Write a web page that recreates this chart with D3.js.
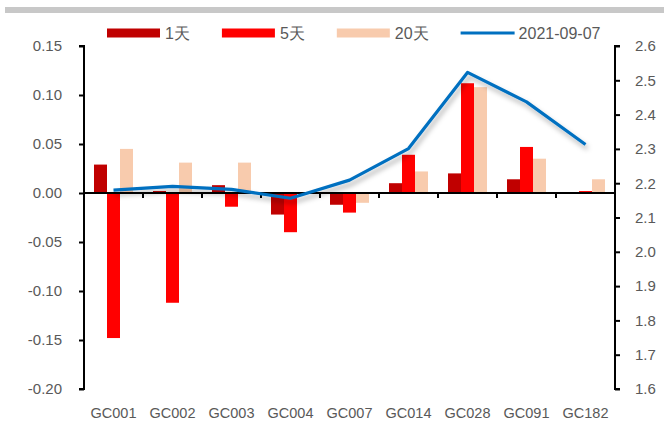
<!DOCTYPE html>
<html>
<head>
<meta charset="utf-8">
<script src="https://cdn.jsdelivr.net/npm/d3@7"></script>
<style>
  body { margin: 0; background: #fff; }
  svg text { font-family: 'Liberation Sans', Arial, sans-serif; fill: #595959; }
</style>
</head>
<body>
<div id="chart"></div>
<script>
// data
var categories = ['GC001', 'GC002', 'GC003', 'GC004', 'GC007', 'GC014', 'GC028', 'GC091', 'GC182'];
var seriesNames = ['1天', '5天', '20天'];
var chg1d = [0.029, 0.002, 0.008, -0.022, -0.012, 0.010, 0.020, 0.014, 0.000];
var chg5d = [-0.148, -0.112, -0.014, -0.040, -0.020, 0.039, 0.112, 0.047, 0.002];
var chg20d = [0.045, 0.031, 0.031, 0.000, -0.010, 0.022, 0.108, 0.035, 0.014];
var lineName = '2021-09-07';
var rates = [2.180, 2.191, 2.182, 2.156, 2.209, 2.301, 2.523, 2.437, 2.313];
var leftTicks = [-0.20, -0.15, -0.10, -0.05, 0.00, 0.05, 0.10, 0.15];
var rightTicks = [1.6, 1.7, 1.8, 1.9, 2.0, 2.1, 2.2, 2.3, 2.4, 2.5, 2.6];

var W = 664, H = 423;
var margin = {top: 46, right: 49, bottom: 34, left: 84},
  width = W - margin.left - margin.right,
  height = H - margin.top - margin.bottom;

var svg = d3.select('#chart').append('svg')
  .attr('width', W).attr('height', H);

// shadow for the line
var defs = svg.append('defs');
var f = defs.append('filter').attr('id', 'shadow')
  .attr('x', '-10%').attr('y', '-20%').attr('width', '130%').attr('height', '160%');
f.append('feDropShadow').attr('dx', 2).attr('dy', 4).attr('stdDeviation', 2.5)
  .attr('flood-color', '#000').attr('flood-opacity', 0.3);

// thin grey band at the top
svg.append('rect').attr('x', 5).attr('y', 7).attr('width', W - 5).attr('height', 6)
  .attr('fill', '#c8c8c8');

var g = svg.append('g').attr('transform', 'translate(' + margin.left + ',' + margin.top + ')');

var x = d3.scaleBand().domain(categories).range([0, width]).paddingInner(0).paddingOuter(0);
var x1 = d3.scaleBand().domain(seriesNames).range([10, x.bandwidth() - 10]).padding(0);
var y = d3.scaleLinear().domain([-0.20, 0.15]).range([height, 0]);
var y2 = d3.scaleLinear().domain([1.6, 2.6]).range([height, 0]);
var color = d3.scaleOrdinal().domain(seriesNames).range(['#c00000', '#ff0000', '#f8cbad']);

var values = [chg1d, chg5d, chg20d];
var rows = [];
seriesNames.forEach(function (s, i) {
  categories.forEach(function (c, j) {
    rows.push({cat: c, key: s, v: values[i][j]});
  });
});

// bars
g.append('g').selectAll('rect').data(rows).enter().append('rect')
  .attr('x', function (d) { return x(d.cat) + x1(d.key); })
  .attr('width', x1.bandwidth())
  .attr('y', function (d) { return Math.min(y(d.v), y(0)); })
  .attr('height', function (d) { return Math.abs(y(d.v) - y(0)); })
  .attr('fill', function (d) { return color(d.key); });

// category axis on zero line
var xAxis = g.append('g').attr('transform', 'translate(0,' + y(0) + ')');
xAxis.append('line').attr('x1', 0).attr('x2', width).attr('stroke', '#000').attr('stroke-width', 2);
xAxis.selectAll('.tk').data(categories.slice(1)).enter().append('line')
  .attr('x1', function (d) { return x(d); }).attr('x2', function (d) { return x(d); })
  .attr('y1', 0).attr('y2', 5).attr('stroke', '#000').attr('stroke-width', 2);

// category labels at the bottom
g.append('g').selectAll('text').data(categories).enter().append('text')
  .attr('x', function (d) { return x(d) + x.bandwidth() / 2; })
  .attr('y', height + 29)
  .attr('text-anchor', 'middle')
  .style('font-size', '14.5px')
  .text(function (d) { return d; });

// left axis
var left = g.append('g').call(d3.axisLeft(y).tickValues(leftTicks).tickFormat(d3.format('.2f')).tickSize(5).tickPadding(17));
left.select('.domain').attr('stroke-width', 2).attr('d', 'M-5,0H0V' + height + 'H-5');
left.selectAll('line').attr('stroke-width', 2);
left.selectAll('text').style('font-size', '15px').attr('fill', '#595959')
  .text(function (d) { return d3.format('.2f')(d).replace('−', '-'); });

// right axis
var right = g.append('g').attr('transform', 'translate(' + width + ',0)')
  .call(d3.axisRight(y2).tickValues(rightTicks).tickFormat(d3.format('.1f')).tickSize(5).tickPadding(15));
right.select('.domain').attr('stroke-width', 2).attr('d', 'M5,0H0V' + height + 'H5');
right.selectAll('line').attr('stroke-width', 2);
right.selectAll('text').style('font-size', '15px').attr('fill', '#595959');

// line series
var line = d3.line()
  .x(function (d, i) { return x(categories[i]) + x.bandwidth() / 2; })
  .y(function (d) { return y2(d); });
g.append('path').datum(rates)
  .attr('d', line)
  .attr('fill', 'none')
  .attr('stroke', '#0070c0')
  .attr('stroke-width', 3.2)
  .attr('stroke-linejoin', 'round')
  .attr('filter', 'url(#shadow)');

// legend
var legend = svg.append('g').attr('transform', 'translate(107,33)');
var lx = 0;
seriesNames.concat([lineName]).forEach(function (name, i) {
  var item = legend.append('g').attr('transform', 'translate(' + lx + ',0)');
  if (i < 3) {
    item.append('rect').attr('x', 0).attr('y', -4.5).attr('width', 53).attr('height', 9).attr('fill', color(name));
  } else {
    item.append('line').attr('x1', 0).attr('x2', 54).attr('y1', 0).attr('y2', 0)
      .attr('stroke', '#0070c0').attr('stroke-width', 3.2);
  }
  var t = item.append('text').attr('x', 58).attr('y', 5.5).style('font-size', '16px').text(name);
  lx += 58 + t.node().getComputedTextLength() + 32;
});
</script>
</body>
</html>
